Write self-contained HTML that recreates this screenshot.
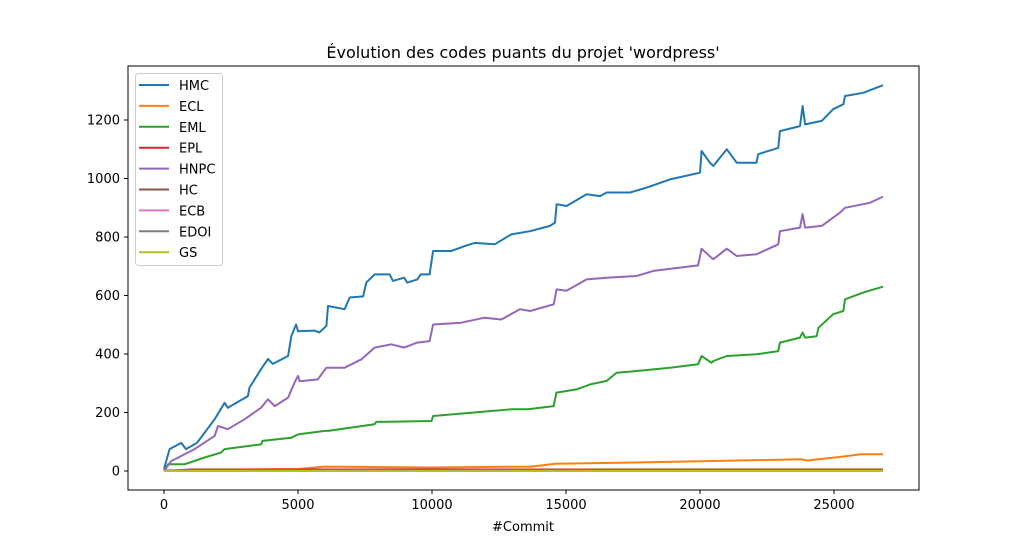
<!DOCTYPE html>
<html><head><meta charset="utf-8"><style>
body{margin:0;background:#fff;font-family:"Liberation Sans","DejaVu Sans",sans-serif}
svg text{font-family:"DejaVu Sans","Liberation Sans",sans-serif;fill:#000}
</style></head><body>
<svg id="chart" width="1021" height="551" xmlns="http://www.w3.org/2000/svg">
<rect x="0" y="0" width="1021" height="551" fill="#fff"/>
<text x="523" y="58" font-size="16" text-anchor="middle">Évolution des codes puants du projet 'wordpress'</text>
<g id="plot"></g>
<rect x="128" y="66" width="791" height="424" fill="none" stroke="#000" stroke-width="1"/>
<g id="axes"></g>
<text x="523" y="531" font-size="13" text-anchor="middle">#Commit</text>
<g id="legend"></g>
</svg>
<script>
const xTicks=[0,5000,10000,15000,20000,25000];
const yTicks=[0,200,400,600,800,1000,1200];
const seriesNames=["HMC","ECL","EML","EPL","HNPC","HC","ECB","EDOI","GS"];
const colors=["#1f77b4","#ff7f0e","#2ca02c","#d62728","#9467bd","#8c564b","#e377c2","#7f7f7f","#bcbd22"];
const hmcX=[0,210,640,820,1230,1890,2260,2380,3130,3190,3620,3880,4060,4630,4750,4930,5000,5620,5800,6060,6120,6740,6930,7430,7550,7860,8420,8540,8960,9080,9450,9580,9910,10040,10720,11220,11590,12340,12960,13660,14400,14590,14650,15020,15770,16270,16520,17390,18010,18880,20000,20060,20370,20500,21000,21370,22110,22170,22920,22980,23730,23830,23920,24540,24970,25350,25410,26090,26830];
const hmcY=[7,75,96,75,96,177,233,216,256,285,348,383,366,393,461,501,478,480,474,496,564,553,593,597,644,672,672,650,661,644,655,672,672,752,752,769,780,775,809,820,838,849,912,906,946,940,952,952,969,997,1020,1094,1054,1043,1100,1054,1054,1083,1105,1162,1179,1248,1185,1197,1237,1254,1282,1293,1319];
const hnpcX=[0,270,1140,1890,2010,2380,3010,3620,3880,4130,4630,4870,5000,5060,5740,6060,6740,7370,7860,8480,8960,9450,9910,10040,11090,11960,12590,13280,13660,14540,14650,15020,15770,16520,17640,18260,19930,20060,20430,20500,21000,21370,22110,22920,22980,23730,23830,23920,24540,25220,25410,26340,26830];
const hnpcY=[0,34,75,120,154,143,177,216,245,222,251,302,325,307,313,353,353,382,422,433,422,439,444,501,507,524,518,553,547,570,621,616,655,661,667,684,703,760,729,724,760,735,741,775,820,832,878,832,838,883,900,917,938];
const emlX=[0,150,770,1510,2130,2260,3620,3680,4750,5000,6000,6120,7860,7920,9980,10040,12960,13580,14540,14640,15400,15900,16520,16890,17640,18880,19930,20060,20430,20500,21000,22110,22920,22980,23730,23830,23920,24350,24420,24970,25350,25410,26090,26830];
const emlY=[0,23,23,46,63,75,91,103,114,125,137,137,160,168,171,188,211,211,222,268,279,296,308,336,342,353,365,393,370,376,393,399,410,439,456,473,456,461,490,536,547,587,610,630];
const eclX=[0,3000,5000,6000,10000,13700,14600,17000,20000,23800,24000,25400,26000,26830];
const eclY=[0,5,7,15,12,15,25,28,33,40,36,50,57,57];
const eplX=[0,1000,26830];const eplY=[0,5,5];
const hcX=[0,1000,26830];const hcY=[0,3,3];
const ecbX=[0,26830];const ecbY=[1,1];
const edoiX=[0,26830];const edoiY=[2,2];
const gsX=[0,26830];const gsY=[0,0];
const seriesX=[hmcX,eclX,emlX,eplX,hnpcX,hcX,ecbX,edoiX,gsX];
const seriesY=[hmcY,eclY,emlY,eplY,hnpcY,hcY,ecbY,edoiY,gsY];
const NS="http://www.w3.org/2000/svg";
function sx(v){return 164+v*0.0268;}
function sy(v){return 471-v*0.2925;}
const axes=document.getElementById('axes');
xTicks.forEach(t=>{
 const l=document.createElementNS(NS,'line');
 
 
 l.setAttribute('x1',sx(t));l.setAttribute('x2',sx(t));l.setAttribute('y1',490);l.setAttribute('y2',494);l.setAttribute('stroke','#000');axes.appendChild(l);
 const tx=document.createElementNS(NS,'text');
 
 
 tx.setAttribute('x',sx(t));tx.setAttribute('y',509);tx.setAttribute('font-size','13');tx.setAttribute('text-anchor','middle');tx.textContent=t;axes.appendChild(tx);
});
yTicks.forEach(t=>{
 const l=document.createElementNS(NS,'line');
 
 
 l.setAttribute('x1',124);l.setAttribute('x2',128);l.setAttribute('y1',sy(t));l.setAttribute('y2',sy(t));l.setAttribute('stroke','#000');axes.appendChild(l);
 const tx=document.createElementNS(NS,'text');
 
 
 tx.setAttribute('x',120);tx.setAttribute('y',sy(t)+4.5);tx.setAttribute('font-size','13');tx.setAttribute('text-anchor','end');tx.textContent=t;axes.appendChild(tx);
});
const plot=document.getElementById('plot');
for(let i=0;i<seriesNames.length;i++){
 const xs=seriesX[i],ys=seriesY[i];
 let d='';
 xs.forEach((x,j)=>{d+=(j?'L':'M')+sx(x).toFixed(1)+','+sy(ys[j]).toFixed(1);});
 const p=document.createElementNS(NS,'path');
 
 
 p.setAttribute('d',d);p.setAttribute('fill','none');p.setAttribute('stroke',colors[i]);p.setAttribute('stroke-width','2');p.setAttribute('stroke-linejoin','round');
 plot.appendChild(p);
}
const lg=document.getElementById('legend');
const box=document.createElementNS(NS,'rect');


box.setAttribute('x',135.5);box.setAttribute('y',73.5);box.setAttribute('width',87);box.setAttribute('height',192);box.setAttribute('rx',3);box.setAttribute('fill','#fff');box.setAttribute('fill-opacity','0.8');box.setAttribute('stroke','#ccc');
lg.appendChild(box);
seriesNames.forEach((n,i)=>{
 const y=85+i*20.9;
 const l=document.createElementNS(NS,'line');
 
 
 l.setAttribute('x1',139);l.setAttribute('x2',169);l.setAttribute('y1',y);l.setAttribute('y2',y);l.setAttribute('stroke',colors[i]);l.setAttribute('stroke-width','2');lg.appendChild(l);
 const t=document.createElementNS(NS,'text');
 
 
 t.setAttribute('x',179);t.setAttribute('y',y+5);t.setAttribute('font-size','13');t.textContent=n;lg.appendChild(t);
});
</script>
</body></html>
